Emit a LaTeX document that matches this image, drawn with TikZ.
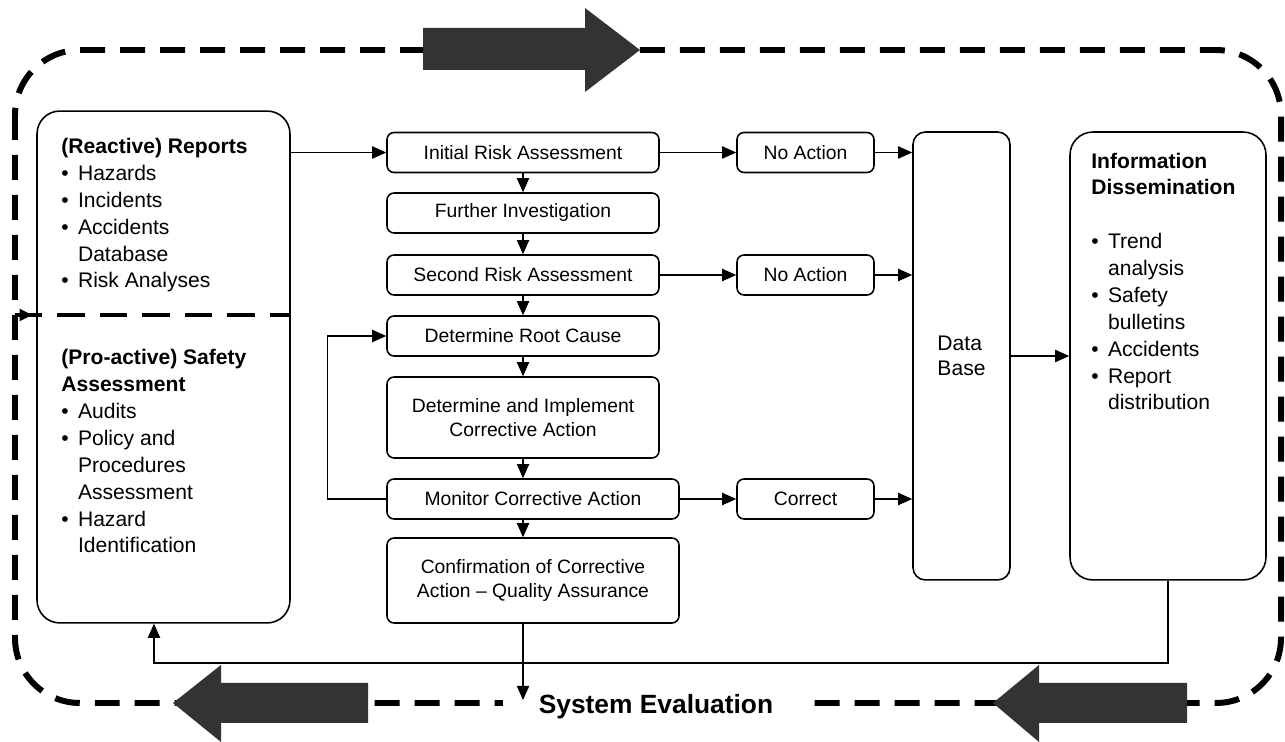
\documentclass[tikz,border=0pt]{standalone}
\usepackage{fontspec}
\setmainfont{Liberation Sans}
\usetikzlibrary{arrows.meta,positioning,calc}
\definecolor{evalgray}{HTML}{333333}
\newcommand{\bulletmark}{\makebox[9.5pt][l]{\textbullet}}
\newcommand{\bulletgap}{\hspace*{9.5pt}}

\begin{document}
\begin{tikzpicture}[x=0.02cm,y=-0.02cm,
  stage/.style={draw,rounded corners=4pt,line width=0.9pt,minimum width=5.44cm,
                minimum height=0.8cm,inner sep=2pt,align=center,
                font=\fontsize{11}{14}\selectfont},
  outcome/.style={stage,minimum width=2.74cm},
  panel/.style={draw,rounded corners=13pt,line width=0.9pt},
  listtext/.style={anchor=base west,align=left,inner sep=0pt,
                   font=\fontsize{12}{15.3}\selectfont},
  link/.style={line width=0.6pt,-{Triangle[length=8pt,width=7pt]}},
  loopline/.style={line width=3.4pt,dash pattern=on 0.5cm off 0.3cm,rounded corners=1.3cm},
  divider/.style={line width=2.6pt,dash pattern=on 0.55cm off 0.3cm},
  bigarrow/.style={fill=evalgray}]

  \useasboundingbox (0,0) rectangle (1285,742);

  % evaluation loop
  \draw[loopline] (15,50) rectangle (1281,703);

  % report and assessment sources (text placed by its last baseline)
  \node[panel,minimum width=5.06cm,minimum height=10.24cm] (rep) at (163.5,367) {};
  \coordinate (divl) at (15,315);
  \draw[divider] (divl) -- (rep.east |- divl);
  \draw[line width=0.6pt,-{Triangle[length=7pt,width=7pt]}] (divl) -- ++(17,0);
  \node[listtext] (reptxt) at (61,288) {%
    \textbf{(Reactive) Reports}\\
    \bulletmark Hazards\\
    \bulletmark Incidents\\
    \bulletmark Accidents\\
    \bulletgap Database\\
    \bulletmark Risk Analyses};
  \node[listtext] (protxt) at (61,553) {%
    \textbf{(Pro-active) Safety}\\
    \textbf{Assessment}\\
    \bulletmark Audits\\
    \bulletmark Policy and\\
    \bulletgap Procedures\\
    \bulletgap Assessment\\
    \bulletmark Hazard\\
    \bulletgap Identification};

  % process steps
  \node[stage] (ira) at (523,152.5) {Initial Risk Assessment};
  \node[stage] (fi)  at (523,213)   {Further Investigation};
  \node[stage] (sra) at (523,275)   {Second Risk Assessment};
  \node[stage] (drc) at (523,336)   {Determine Root Cause};
  \node[stage,minimum height=1.62cm] (dic) at (523,417.5)
       {Determine and Implement\\Corrective Action};
  \node[stage,minimum width=5.84cm] (mca) at (533,499) {Monitor Corrective Action};
  \node[stage,minimum width=5.84cm,minimum height=1.7cm] (cca) at (533,580.5)
       {Confirmation of Corrective\\Action -- Quality Assurance};

  \node[outcome] (na1) at (805.5,152.5) {No Action};
  \node[outcome] (na2) at (805.5,275)   {No Action};
  \node[outcome] (cor) at (805.5,499)   {Correct};

  \node[panel,rounded corners=7pt,minimum width=1.94cm,minimum height=8.96cm,
        align=left,font=\fontsize{12}{14.5}\selectfont] (db) at (961.5,356) {Data\\Base};

  \node[panel,minimum width=3.92cm,minimum height=8.96cm] (info) at (1168,356) {};
  \node[listtext] (infotxt) at (1091,410) {%
    \textbf{Information}\\
    \textbf{Dissemination}\\[15.3pt]
    \bulletmark Trend\\
    \bulletgap analysis\\
    \bulletmark Safety\\
    \bulletgap bulletins\\
    \bulletmark Accidents\\
    \bulletmark Report\\
    \bulletgap distribution};

  % connectors
  \draw[link] (rep.east |- ira.west) -- (ira.west);
  \draw[link] (ira) -- (fi);
  \draw[link] (fi) -- (sra);
  \draw[link] (sra) -- (drc);
  \draw[link] (drc) -- (dic);
  \draw[link] (dic.south) -- (dic.south |- mca.north);
  \draw[link] (dic.south |- mca.south) -- (dic.south |- cca.north);
  \draw[link] (ira) -- (na1);
  \draw[link] (sra) -- (na2);
  \draw[link] (mca) -- (cor);
  \draw[link] (na1) -- (na1 -| db.west);
  \draw[link] (na2) -- (na2 -| db.west);
  \draw[link] (cor) -- (cor -| db.west);
  \draw[link] (mca.west) -- ++(-59,0) |- (drc.west);
  \draw[link] (db) -- (info);

  \coordinate (fb) at (154,663);
  \draw[link] (info.south) |- (fb) -- (fb |- rep.south);

  \node[fill=white,inner sep=0pt,minimum width=6.14cm,minimum height=0.8cm,
        font=\bfseries\fontsize{15}{18}\selectfont] (syseval) at (656,707)
       {System Evaluation};
  \coordinate (sysin) at (523,700);
  \draw[link] (dic.south |- cca.south) -- (sysin);

  % big direction arrows
  \fill[bigarrow] (423,28) -- (585,28) -- (585,8) -- (640,50) -- (585,92)
                  -- (585,70) -- (423,70) -- cycle;
  \fill[bigarrow] (368,683) -- (221,683) -- (221,665) -- (173,703) -- (221,742)
                  -- (221,723) -- (368,723) -- cycle;
  \fill[bigarrow] (1187,683) -- (1039,683) -- (1039,665) -- (993,703) -- (1039,742)
                  -- (1039,723) -- (1187,723) -- cycle;

\end{tikzpicture}
\end{document}
